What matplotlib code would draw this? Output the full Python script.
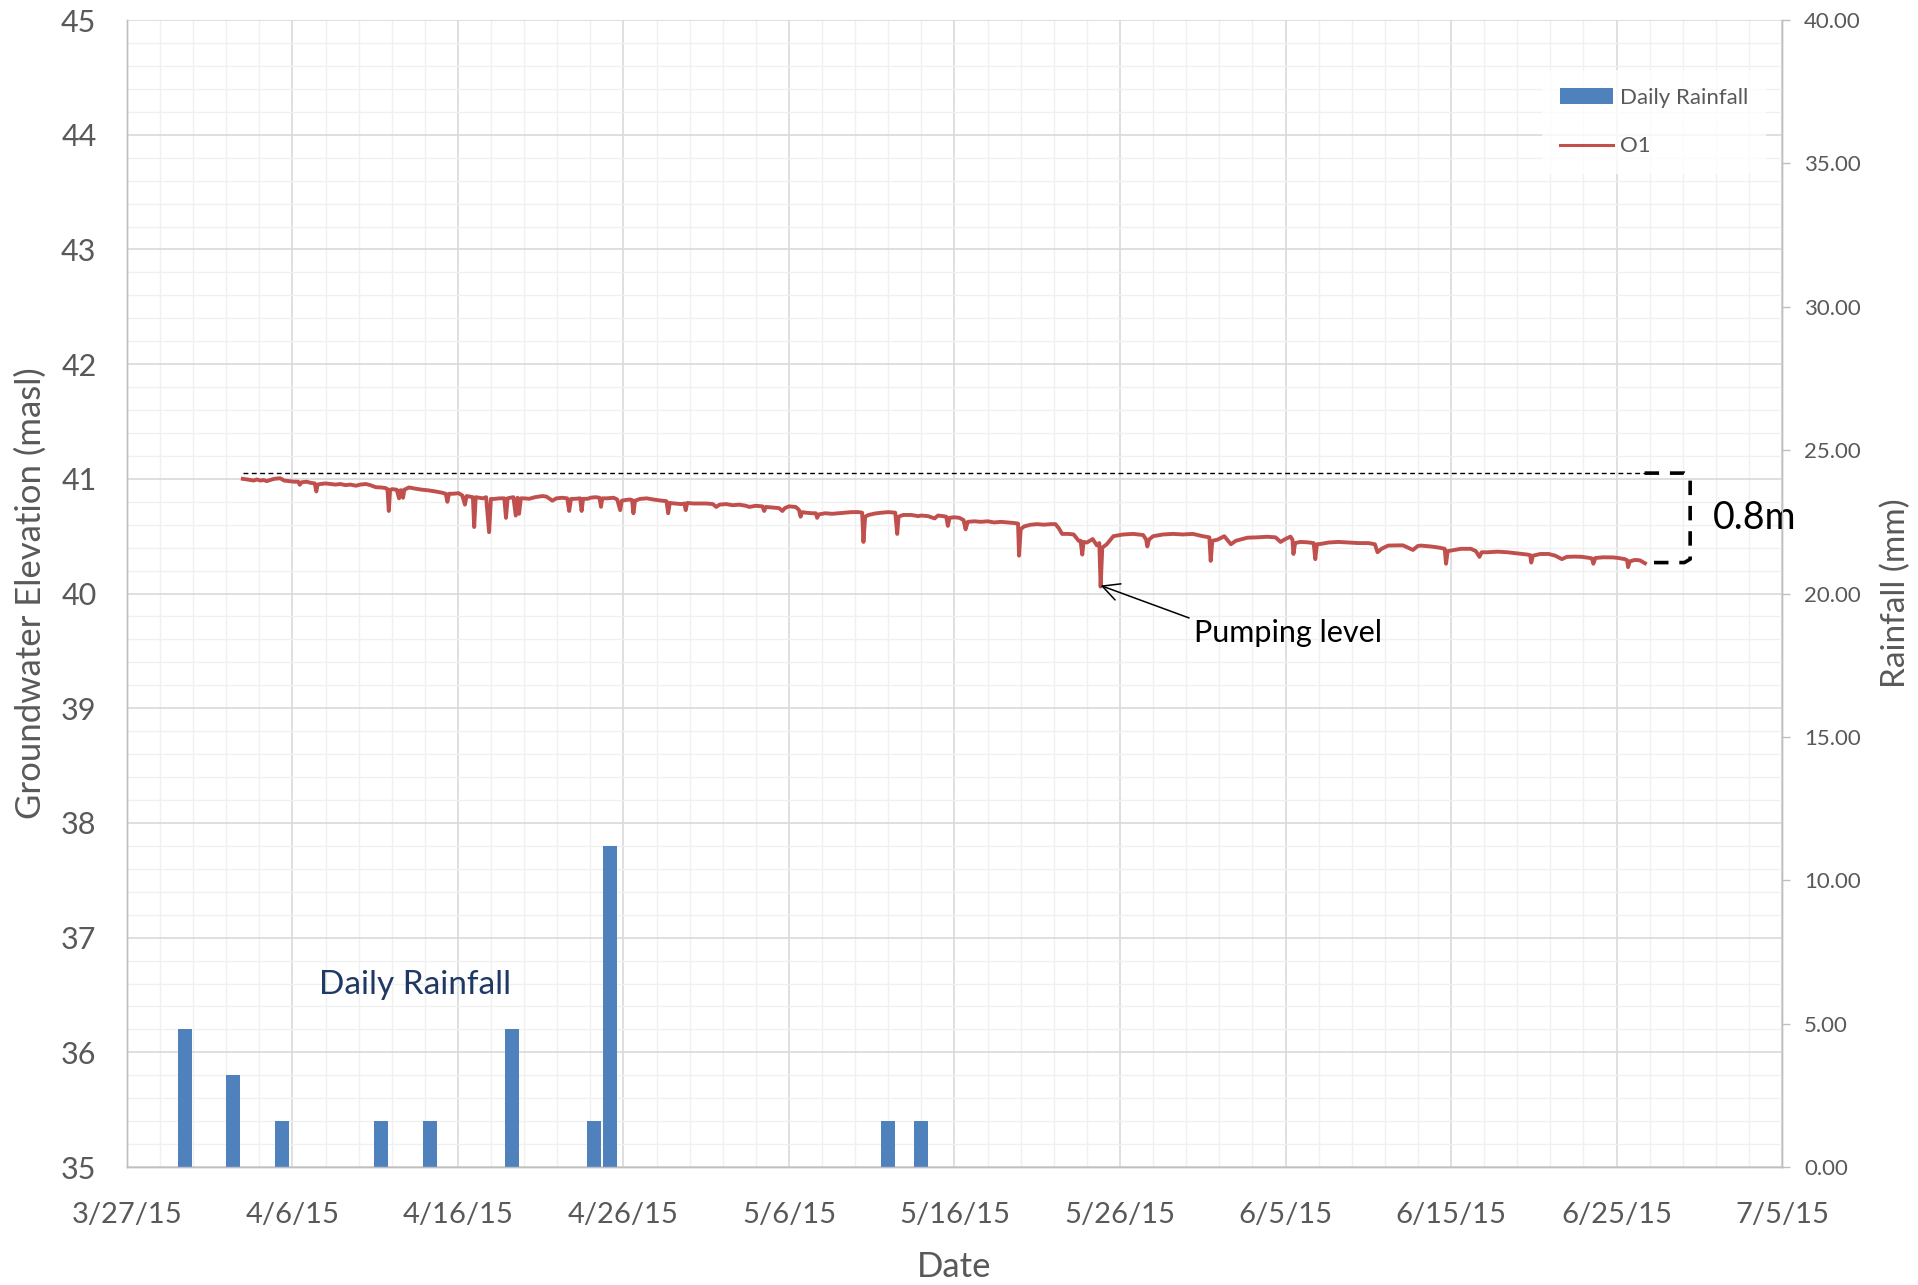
import matplotlib
matplotlib.use('Agg')
import matplotlib.pyplot as plt
import matplotlib.dates as mdates
from matplotlib.ticker import MultipleLocator, FixedLocator, FuncFormatter
from matplotlib.patches import Patch
from matplotlib.lines import Line2D
import numpy as np
import pandas as pd

plt.rcParams['font.family'] = ['Lato', 'DejaVu Sans']

# %% Data
start = pd.Timestamp('2015-03-27')
end = pd.Timestamp('2015-07-05')

# daily rainfall (mm)
rain_dates = ['2015-03-30 12:00', '2015-04-02 10:00', '2015-04-05 09:00', '2015-04-11 09:00',
              '2015-04-14 07:00', '2015-04-19 07:00', '2015-04-24 05:00', '2015-04-25 05:00',
              '2015-05-12 00:00', '2015-05-14 00:00']
rain_mm = [4.8, 3.2, 1.6, 1.6, 1.6, 4.8, 1.6, 11.2, 1.6, 1.6]

# O1 logger: days after 3/27/15 and groundwater elevation (masl)
o1_days = [7.00, 7.25, 7.45, 7.65, 7.85, 8.05, 8.25, 8.45, 8.65, 8.90, 9.25, 9.50, 9.80, 10.10,
           10.35, 10.44, 10.55, 10.85, 11.10, 11.35, 11.44, 11.52, 11.70, 12.00, 12.30, 12.60,
           12.90, 13.20, 13.50, 13.84, 14.10, 14.44, 14.70, 15.04, 15.35, 15.64, 15.74, 15.82,
           15.90, 16.04, 16.30, 16.44, 16.52, 16.60, 16.68, 16.76, 17.04, 17.40, 17.84, 18.20,
           18.64, 19.00, 19.26, 19.36, 19.46, 19.70, 20.04, 20.26, 20.42, 20.52, 20.72, 20.90,
           20.98, 21.07, 21.30, 21.50, 21.70, 21.88, 21.99, 22.20, 22.50, 22.80, 22.90, 23.00,
           23.15, 23.35, 23.49, 23.60, 23.69, 23.80, 24.00, 24.30, 24.65, 25.10, 25.35, 25.70,
           25.95, 26.30, 26.60, 26.72, 26.83, 27.10, 27.38, 27.47, 27.56, 27.84,
           28.00, 28.30, 28.55, 28.64, 28.72, 29.00, 29.40, 29.62, 29.80, 29.90, 30.10, 30.40,
           30.52, 30.60, 30.70, 31.00, 31.40, 31.80, 32.30, 32.60, 32.70, 32.80, 33.10, 33.50,
           33.68, 33.76, 33.85, 34.20, 34.60, 35.00, 35.40, 35.60, 35.80, 36.20, 36.60, 37.00,
           37.40, 37.60, 38.00, 38.40, 38.50, 38.60, 39.00, 39.40, 39.60, 39.75, 40.00, 40.40,
           40.60, 40.70, 40.80, 41.00, 41.40, 41.62, 41.70, 41.80, 42.20, 42.60, 43.00, 43.40,
           43.80, 44.20, 44.42, 44.50, 44.60, 44.80, 45.20, 45.60, 46.00, 46.42, 46.54, 46.62,
           46.90, 47.40, 47.80, 48.00, 48.40, 48.80, 49.00,
           49.30, 49.50, 49.60, 49.70, 50.00, 50.30, 50.55, 50.67, 50.80, 51.20, 51.60, 52.00,
           52.40, 52.80, 53.20, 53.60, 53.84, 53.90, 54.00, 54.20, 54.60, 55.00, 55.40, 55.80,
           56.10, 56.30, 56.50, 56.90, 57.20, 57.50, 57.62, 57.72, 57.80, 58.00, 58.35, 58.60,
           58.75, 58.83, 58.93, 59.20, 59.60, 60.20, 60.80, 61.40, 61.58, 61.65, 61.75, 62.00,
           62.60, 63.20, 63.80, 64.40, 65.00, 65.40, 65.48, 65.58, 65.90, 66.30, 66.70, 67.00,
           67.70, 68.30, 68.90, 69.40, 69.70,
           70.00, 70.30, 70.42, 70.48, 70.58, 70.90, 71.30, 71.70, 71.80, 71.90, 72.10, 72.60,
           73.20, 73.80, 74.40, 75.00, 75.40, 75.56, 75.80, 76.20, 76.80, 77.10, 77.40, 77.70,
           78.00, 78.20, 78.80, 79.30, 79.62, 79.70, 79.80, 80.00, 80.60, 81.20, 81.50, 81.72,
           81.85, 82.20, 82.80, 83.40, 84.00, 84.60, 84.78, 84.85, 84.95, 85.40, 85.90, 86.30,
           86.70, 87.00, 87.50, 87.90, 88.40, 88.52, 88.60, 88.72, 89.20, 89.80, 90.10, 90.50,
           90.64, 90.70, 90.80, 91.10, 91.40, 91.72]
o1_level = [41.000, 40.995, 40.990, 40.985, 40.995, 40.985, 40.990, 40.980, 40.990, 41.000,
            41.005, 40.985, 40.980, 40.975, 40.975, 40.948, 40.970, 40.975, 40.965, 40.960,
            40.890, 40.950, 40.955, 40.960, 40.955, 40.950, 40.955, 40.945, 40.950, 40.940,
            40.950, 40.955, 40.945, 40.927, 40.925, 40.919, 40.910, 40.720, 40.905, 40.910,
            40.905, 40.830, 40.900, 40.900, 40.835, 40.905, 40.925, 40.915, 40.905, 40.900,
            40.890, 40.880, 40.870, 40.800, 40.870, 40.870, 40.875, 40.855, 40.775, 40.850,
            40.845, 40.840, 40.580, 40.840, 40.835, 40.830, 40.840, 40.535, 40.825, 40.825,
            40.830, 40.830, 40.660, 40.830, 40.835, 40.840, 40.680, 40.835, 40.695, 40.830,
            40.830, 40.826, 40.840, 40.850, 40.845, 40.810, 40.830, 40.835, 40.830, 40.720,
            40.825, 40.826, 40.830, 40.720, 40.826, 40.826,
            40.835, 40.840, 40.835, 40.756, 40.830, 40.830, 40.835, 40.820, 40.727, 40.810,
            40.815, 40.820, 40.815, 40.700, 40.810, 40.825, 40.830, 40.820, 40.810, 40.805,
            40.700, 40.790, 40.785, 40.780, 40.785, 40.727, 40.790, 40.785, 40.785, 40.785,
            40.780, 40.755, 40.775, 40.780, 40.770, 40.775, 40.765, 40.755, 40.765, 40.760,
            40.720, 40.755, 40.750, 40.745, 40.720, 40.745, 40.760, 40.755, 40.730, 40.670,
            40.710, 40.705, 40.700, 40.700, 40.660, 40.690, 40.700, 40.695, 40.700, 40.705,
            40.710, 40.710, 40.705, 40.450, 40.670, 40.685, 40.698, 40.705, 40.710, 40.705,
            40.520, 40.670, 40.685, 40.685, 40.675, 40.680, 40.675, 40.655, 40.680,
            40.675, 40.670, 40.590, 40.660, 40.665, 40.660, 40.640, 40.560, 40.625, 40.630,
            40.625, 40.630, 40.620, 40.625, 40.620, 40.615, 40.610, 40.330, 40.560, 40.585,
            40.600, 40.605, 40.600, 40.605, 40.605, 40.570, 40.520, 40.520, 40.515, 40.460,
            40.460, 40.340, 40.450, 40.445, 40.475, 40.420, 40.440, 40.060, 40.400, 40.430,
            40.500, 40.515, 40.520, 40.510, 40.470, 40.410, 40.470, 40.500, 40.515, 40.520,
            40.515, 40.520, 40.500, 40.490, 40.285, 40.460, 40.470, 40.500, 40.430, 40.460,
            40.487, 40.490, 40.495, 40.490, 40.450,
            40.476, 40.496, 40.470, 40.345, 40.440, 40.450, 40.447, 40.440, 40.300, 40.430,
            40.432, 40.445, 40.450, 40.445, 40.440, 40.440, 40.430, 40.360, 40.390, 40.418,
            40.420, 40.420, 40.400, 40.380, 40.415, 40.418, 40.410, 40.400, 40.390, 40.260,
            40.370, 40.375, 40.390, 40.390, 40.370, 40.320, 40.360, 40.360, 40.365, 40.360,
            40.350, 40.340, 40.335, 40.270, 40.330, 40.345, 40.345, 40.330, 40.300, 40.320,
            40.322, 40.320, 40.310, 40.305, 40.260, 40.310, 40.316, 40.315, 40.310, 40.300,
            40.290, 40.230, 40.280, 40.293, 40.290, 40.264]

ref_level = 41.05      # starting water level (dashed)
drop_level = 40.27     # level at end of record
bracket_days = [91.7, 94.1, 94.45, 94.45, 94.1, 91.7]

# %% Plot
fig = plt.figure(figsize=(19.18, 12.85), dpi=100)
ax = fig.add_axes([0.0662, 0.0918, 0.8629, 0.8926])
ax2 = ax.twinx()

x0 = mdates.date2num(start)
x1 = mdates.date2num(end)
o1_x = x0 + np.array(o1_days)
rain_x = mdates.date2num(pd.to_datetime(rain_dates))

ax.plot(o1_x, o1_level, color='#C0504D', lw=2.8, zorder=3, solid_joinstyle='round')
ax2.bar(rain_x, rain_mm, width=0.85, color='#4F81BD', zorder=2)

# reference line and 0.8 m drawdown bracket
ax.plot([o1_x[0], x0 + bracket_days[0]], [ref_level, ref_level], color='black', lw=1.0,
        dashes=(3.5, 2.5), zorder=4)
ax.plot(x0 + np.array(bracket_days),
        [ref_level, ref_level, ref_level - 0.03, drop_level + 0.03, drop_level, drop_level],
        color='black', lw=2.6, dashes=(4, 3), zorder=4)
ax.text(x0 + 95.8, (ref_level + drop_level) / 2, '0.8m', fontsize=27, color='black',
        ha='left', va='center')

# pumping level arrow
ax.annotate('Pumping level', xy=(x0 + 58.83, 40.07), xytext=(x0 + 64.5, 39.66),
            fontsize=22, color='black', ha='left', va='center',
            arrowprops=dict(arrowstyle='->, head_length=0.55, head_width=0.28', color='black',
                            lw=1.1, relpos=(0, 0.95), shrinkA=2, shrinkB=0))

ax.text(x0 + 17.4, 36.59, 'Daily Rainfall', fontsize=24, color='#1F3864', ha='center', va='center')

# axes ranges and grid
ax.set_xlim(x0, x1)
ax.set_ylim(35, 45)
ax2.set_ylim(0, 40)

ax.xaxis.set_major_locator(FixedLocator(x0 + np.arange(0, 101, 10)))
ax.xaxis.set_minor_locator(FixedLocator(x0 + np.arange(0, 101, 2)))
ax.xaxis.set_major_formatter(FuncFormatter(
    lambda v, p: '{d.month}/{d.day}/{d:%y}'.format(d=mdates.num2date(v))))
ax.yaxis.set_major_locator(MultipleLocator(1))
ax.yaxis.set_minor_locator(MultipleLocator(0.2))
ax2.yaxis.set_major_locator(MultipleLocator(5))
ax2.yaxis.set_major_formatter(FuncFormatter(lambda v, p: '{:.2f}'.format(v)))

ax.grid(which='major', color='#D9D9D9', lw=1.2, zorder=0)
ax.grid(which='minor', color='#F0F0F0', lw=1.0, zorder=0)
ax.set_axisbelow(True)

ax.tick_params(axis='y', which='both', length=0, pad=22, labelsize=22, labelcolor='#595959')
ax.tick_params(axis='x', which='both', length=0, pad=25, labelsize=21, labelcolor='#595959')
ax2.tick_params(axis='y', which='major', length=6, width=1, color='#BFBFBF', pad=10,
                labelsize=16, labelcolor='#595959')

for a in (ax, ax2):
    a.spines['top'].set_visible(False)
    for s in ('left', 'right', 'bottom'):
        a.spines[s].set_color('#BFBFBF')
        a.spines[s].set_linewidth(1.0)

ax.set_ylabel('Groundwater Elevation (masl)', fontsize=25, color='#595959',
              va='center', ha='center')
ax.yaxis.set_label_coords(-0.058, 0.5)
ax2.set_ylabel('Rainfall (mm)', fontsize=24, color='#595959', rotation=90,
               va='center', ha='center')
ax2.yaxis.set_label_coords(1.069, 0.5)
ax.set_xlabel('Date', fontsize=25, color='#595959', va='center', ha='center')
ax.xaxis.set_label_coords(0.5, -0.087)

handles = [Patch(facecolor='#4F81BD', edgecolor='none'),
           Line2D([], [], color='#C0504D', lw=2.2)]
leg = ax2.legend(handles, ['Daily Rainfall', 'O1'], loc='center',
                 bbox_to_anchor=(1654 / 1918, 1 - 122 / 1285), bbox_transform=fig.transFigure,
                 fontsize=16, handlelength=2.4, handleheight=0.7, handletextpad=0.3,
                 labelspacing=1.3, frameon=True, fancybox=False, borderpad=0.8)
leg.get_frame().set_facecolor('white')
leg.get_frame().set_edgecolor('none')
for t in leg.get_texts():
    t.set_color('#595959')

fig.savefig('out.png', dpi=100)
